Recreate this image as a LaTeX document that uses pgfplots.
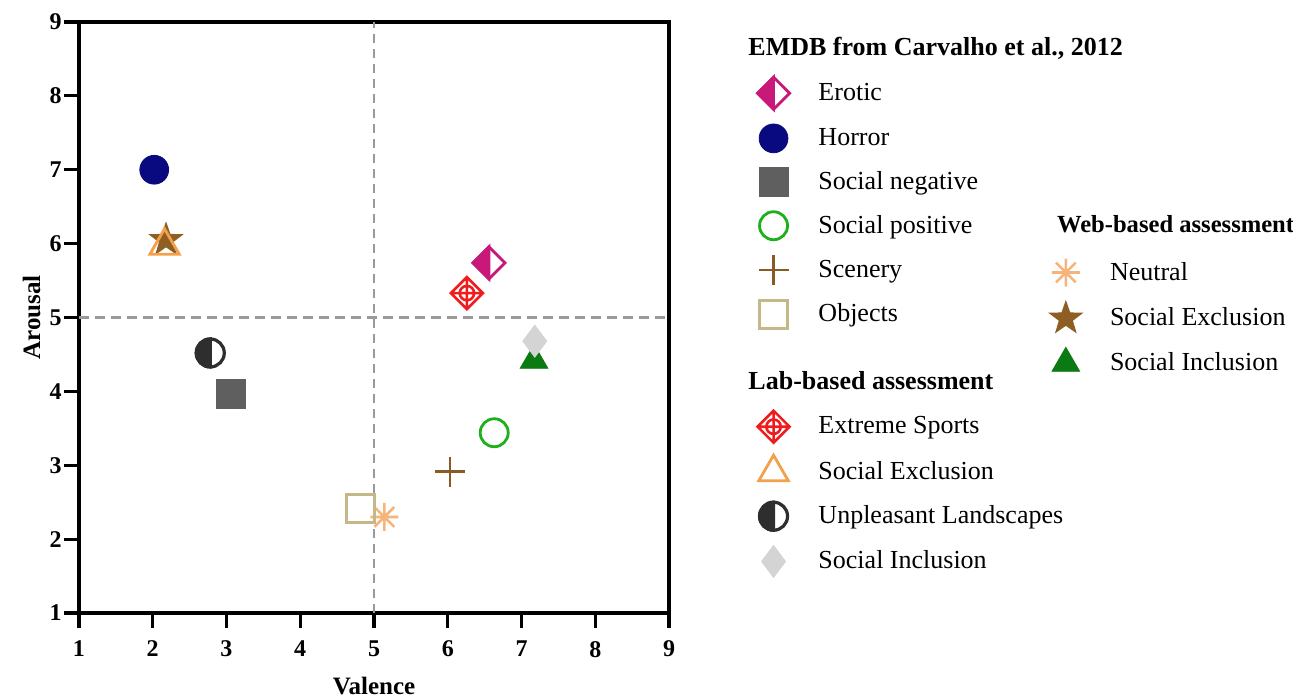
\documentclass[border=0pt]{standalone}
\usepackage{fontspec}
\setmainfont{Liberation Serif}
\usepackage{pgfplots}
\pgfplotsset{compat=1.18}
\usetikzlibrary{plotmarks}

\definecolor{cErotic}{HTML}{C8197A}
\definecolor{cHorror}{HTML}{0A0A80}
\definecolor{cSocNeg}{HTML}{5F5F5F}
\definecolor{cSocPos}{HTML}{1DB01D}
\definecolor{cScenery}{HTML}{8A5A24}
\definecolor{cObjects}{HTML}{C4B788}
\definecolor{cExtreme}{HTML}{EE1C1C}
\definecolor{cLabExcl}{HTML}{F2A04A}
\definecolor{cUnpl}{HTML}{2E2E2E}
\definecolor{cLabIncl}{HTML}{D4D4D4}
\definecolor{cNeutral}{HTML}{F6B47A}
\definecolor{cWebExcl}{HTML}{8E5E22}
\definecolor{cWebIncl}{HTML}{0B7A12}
\definecolor{cDash}{HTML}{9A9A9A}

\pgfdeclareplotmark{diamondoplus}{%
  \pgfpathmoveto{\pgfqpoint{0pt}{\pgfplotmarksize}}%
  \pgfpathlineto{\pgfqpoint{\pgfplotmarksize}{0pt}}%
  \pgfpathlineto{\pgfqpoint{0pt}{-\pgfplotmarksize}}%
  \pgfpathlineto{\pgfqpoint{-\pgfplotmarksize}{0pt}}%
  \pgfpathclose
  \pgfpathmoveto{\pgfqpoint{0pt}{\pgfplotmarksize}}%
  \pgfpathlineto{\pgfqpoint{0pt}{-\pgfplotmarksize}}%
  \pgfpathmoveto{\pgfqpoint{\pgfplotmarksize}{0pt}}%
  \pgfpathlineto{\pgfqpoint{-\pgfplotmarksize}{0pt}}%
  \pgfpathcircle{\pgfpointorigin}{0.45\pgfplotmarksize}%
  \pgfusepathqstroke
}
\pgfdeclareplotmark{asteriskeight}{%
  \pgfpathmoveto{\pgfqpoint{0pt}{\pgfplotmarksize}}%
  \pgfpathlineto{\pgfqpoint{0pt}{-\pgfplotmarksize}}%
  \pgfpathmoveto{\pgfqpoint{\pgfplotmarksize}{0pt}}%
  \pgfpathlineto{\pgfqpoint{-\pgfplotmarksize}{0pt}}%
  \pgfpathmoveto{\pgfqpoint{0.7071\pgfplotmarksize}{0.7071\pgfplotmarksize}}%
  \pgfpathlineto{\pgfqpoint{-0.7071\pgfplotmarksize}{-0.7071\pgfplotmarksize}}%
  \pgfpathmoveto{\pgfqpoint{-0.7071\pgfplotmarksize}{0.7071\pgfplotmarksize}}%
  \pgfpathlineto{\pgfqpoint{0.7071\pgfplotmarksize}{-0.7071\pgfplotmarksize}}%
  \pgfusepathqstroke
}
\pgfdeclareplotmark{halfdiamondleft}{%
  \pgfpathmoveto{\pgfqpoint{0pt}{\pgfplotmarksize}}%
  \pgfpathlineto{\pgfqpoint{-\pgfplotmarksize}{0pt}}%
  \pgfpathlineto{\pgfqpoint{0pt}{-\pgfplotmarksize}}%
  \pgfpathclose
  \pgfusepathqfillstroke
  \pgfpathmoveto{\pgfqpoint{0pt}{\pgfplotmarksize}}%
  \pgfpathlineto{\pgfqpoint{\pgfplotmarksize}{0pt}}%
  \pgfpathlineto{\pgfqpoint{0pt}{-\pgfplotmarksize}}%
  \pgfpathlineto{\pgfqpoint{-\pgfplotmarksize}{0pt}}%
  \pgfpathclose
  \pgfusepathqstroke
}
\pgfdeclareplotmark{halfcircleleft}{%
  \pgfpathmoveto{\pgfqpoint{0pt}{\pgfplotmarksize}}%
  \pgfpatharc{90}{270}{\pgfplotmarksize}%
  \pgfpathclose
  \pgfusepathqfillstroke
  \pgfpathcircle{\pgfpointorigin}{\pgfplotmarksize}%
  \pgfusepathqstroke
}
\pgfdeclareplotmark{fstar}{%
  \pgfpathmoveto{\pgfpointpolar{90}{\pgfplotmarksize}}%
  \pgfpathlineto{\pgfpointpolar{126}{0.40\pgfplotmarksize}}%
  \pgfpathlineto{\pgfpointpolar{162}{\pgfplotmarksize}}%
  \pgfpathlineto{\pgfpointpolar{198}{0.40\pgfplotmarksize}}%
  \pgfpathlineto{\pgfpointpolar{234}{\pgfplotmarksize}}%
  \pgfpathlineto{\pgfpointpolar{270}{0.40\pgfplotmarksize}}%
  \pgfpathlineto{\pgfpointpolar{306}{\pgfplotmarksize}}%
  \pgfpathlineto{\pgfpointpolar{342}{0.40\pgfplotmarksize}}%
  \pgfpathlineto{\pgfpointpolar{18}{\pgfplotmarksize}}%
  \pgfpathlineto{\pgfpointpolar{54}{0.40\pgfplotmarksize}}%
  \pgfpathclose
  \pgfusepathqfillstroke
}

\begin{document}
\begin{tikzpicture}
\useasboundingbox (0,0) rectangle (646.5pt,349.5pt);
\pgfplotsset{
  commonaxis/.style={
    at={(39.5pt,43pt)}, anchor=south west,
    scale only axis, width=295pt, height=295.5pt,
    xmin=1, xmax=9, ymin=1, ymax=9,
    clip=false,
  },
  commonlegend/.style={
    legend style={draw=none, fill=none, font=\fontsize{13}{15}\selectfont,
      legend cell align=left, row sep=7.35pt, inner sep=0pt,
      /tikz/every odd column/.append style={column sep=12pt}},
  },
  boxedmark/.style={only marks,
    legend image code/.code={%
      \begin{pgfinterruptboundingbox}
      \draw[mark repeat=2,mark phase=2,##1] plot coordinates {(0cm,0cm) (0.3cm,0cm) (0.6cm,0cm)};
      \end{pgfinterruptboundingbox}
      \pgfpathrectangle{\pgfqpoint{0pt}{-7.4pt}}{\pgfqpoint{17pt}{14.8pt}}%
      \pgfusepath{discard}%
    }},
}
% Web-based assessment (drawn first)
\begin{axis}[commonaxis, commonlegend, hide axis,
  legend style={at={(1.643,0.68)}, anchor=north west, row sep=7.2pt}]
\addlegendimage{empty legend}
\addlegendentry{\hspace{-26.5pt}\raisebox{2pt}{\fontsize{12.3}{14}\selectfont\textbf{Web-based assessment}}}
\addplot[only marks, mark=asteriskeight, mark size=7pt, cNeutral, line width=1.3pt] coordinates {(5.14,2.30)};
\addlegendentry{Neutral}
\addplot[only marks, mark=fstar, mark size=8.5pt, draw=cWebExcl, fill=cWebExcl, line width=0.5pt] coordinates {(2.18,6.05)};
\addlegendentry{Social Exclusion}
\addplot[only marks, mark=triangle*, mark size=8pt, draw=cWebIncl, fill=cWebIncl] coordinates {(7.17,4.42)};
\addlegendentry{Social Inclusion}
\end{axis}

\begin{axis}[commonaxis, commonlegend,
  axis line style={line width=1.6pt},
  tick style={line width=1.6pt, black},
  tick align=outside, major tick length=7.5pt,
  xtick={1,...,9}, ytick={1,...,9},
  xtick pos=bottom, ytick pos=left,
  /pgf/number format/assume math mode=true,
  ticklabel style={font=\bfseries\fontsize{12}{14}\selectfont},
  yticklabel style={inner sep=1pt},
  xticklabel style={yshift=-3pt},
  xlabel={\textbf{Valence}}, ylabel={\textbf{Arousal}},
  label style={font=\bfseries\fontsize{12.5}{14}\selectfont},
  xlabel style={yshift=-3pt},
  legend style={at={(1.1476,0.9816)}, anchor=north west}]
\addplot[forget plot, cDash, line width=1.1pt, dash pattern=on 4.5pt off 3pt] coordinates {(5,1) (5,9)};
\addplot[forget plot, cDash, line width=1.6pt, dash pattern=on 5pt off 3pt] coordinates {(1,5) (9,5)};

\addlegendimage{empty legend}
\addlegendentry{\hspace{-35pt}\textbf{EMDB from Carvalho et al., 2012}}
\addplot[only marks, mark=halfdiamondleft, mark size=8pt, draw=cErotic, fill=cErotic, line width=1.4pt] coordinates {(6.56,5.74)};
\addlegendentry{Erotic}
\addplot[only marks, mark=*, mark size=7.2pt, draw=cHorror, fill=cHorror] coordinates {(2.02,7.00)};
\addlegendentry{Horror}
\addplot[only marks, mark=square*, mark size=7.2pt, draw=cSocNeg, fill=cSocNeg] coordinates {(3.06,3.97)};
\addlegendentry{Social negative}
\addplot[only marks, mark=o, mark size=7pt, draw=cSocPos, line width=1.4pt] coordinates {(6.63,3.44)};
\addlegendentry{Social positive}
\addplot[only marks, mark=+, mark size=7.5pt, draw=cScenery, line width=1.4pt] coordinates {(6.03,2.91)};
\addlegendentry{Scenery}
\addplot[only marks, mark=square, mark size=7pt, draw=cObjects, line width=1.5pt] coordinates {(4.82,2.42)};
\addlegendentry{Objects}

\addlegendimage{empty legend}
\addlegendentry{\hspace{-35pt}\rule{0pt}{20.8pt}\textbf{Lab-based assessment}}
\addplot[only marks, mark=diamondoplus, mark size=8pt, draw=cExtreme, line width=1.3pt] coordinates {(6.26,5.33)};
\addlegendentry{Extreme Sports}
\addplot[boxedmark, mark=triangle, mark size=8.5pt, draw=cLabExcl, line width=1.4pt] coordinates {(2.16,5.97)};
\addlegendentry{Social Exclusion}
\addplot[only marks, mark=halfcircleleft, mark size=7pt, draw=cUnpl, fill=cUnpl, line width=1.6pt] coordinates {(2.78,4.52)};
\addlegendentry{Unpleasant Landscapes}
\addplot[only marks, mark=diamond*, mark size=8pt, draw=cLabIncl, fill=cLabIncl] coordinates {(7.18,4.68)};
\addlegendentry{Social Inclusion}
\end{axis}
\end{tikzpicture}
\end{document}
